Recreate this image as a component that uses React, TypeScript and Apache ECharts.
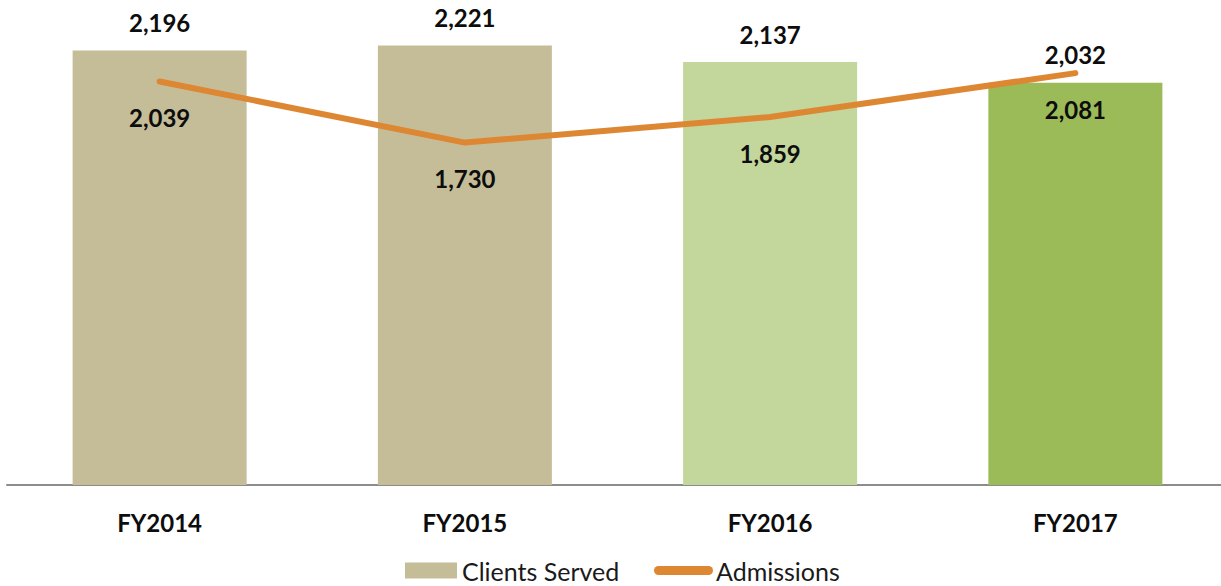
import React, { useEffect, useRef } from "react";
import * as echarts from "echarts";

const categories = ["FY2014", "FY2015", "FY2016", "FY2017"];
const clientsServed = [2196, 2221, 2137, 2032];
const admissions = [2039, 1730, 1859, 2081];
const barColors = ["#C4BD97", "#C4BD97", "#C3D69B", "#9BBB59"];

const fmt = (v: number) => v.toLocaleString("en-US");

const legendText = { fontSize: 25, lineHeight: 22, color: "#1A1A1A", fontFamily: "Lato" };

export default function App() {
  const ref = useRef<HTMLDivElement>(null);
  useEffect(() => {
    const chart = echarts.init(ref.current!, null, { renderer: "svg" });
    chart.setOption({
      animation: false,
      textStyle: { fontFamily: "Lato" },
      grid: { left: 7, right: 0, top: 10, bottom: 101 },
      legend: [
        {
          left: 400,
          top: 553,
          itemWidth: 52,
          itemHeight: 16,
          textStyle: legendText,
          data: [{ name: "Clients Served", icon: "rect" }],
        },
        {
          left: 649,
          top: 553,
          itemWidth: 59,
          itemHeight: 9,
          textStyle: { ...legendText, padding: [0, 0, 0, -2] },
          data: [
            {
              name: "Admissions",
              icon: "path://M4.5,0 L54.5,0 A4.5,4.5 0 0 1 54.5,9 L4.5,9 A4.5,4.5 0 0 1 4.5,0 Z",
              itemStyle: { color: "#DE8733" },
            },
          ],
        },
      ],
      xAxis: {
        type: "category",
        data: categories,
        axisLine: { show: true, lineStyle: { color: "#8C8C8C", width: 2 } },
        axisTick: { show: false },
        axisLabel: {
          fontSize: 24,
          fontWeight: "bold",
          color: "#0D0D0D",
          margin: 25,
          fontFamily: "Lato",
        },
      },
      yAxis: {
        type: "value",
        min: 0,
        max: 2400,
        show: false,
        splitLine: { show: false },
      },
      series: [
        {
          name: "Clients Served",
          type: "bar",
          barWidth: 174,
          itemStyle: { color: "#C4BD97" },
          data: clientsServed.map((v, i) => ({ value: v, itemStyle: { color: barColors[i] } })),
          label: {
            show: true,
            position: "top",
            distance: 16,
            fontSize: 24,
            fontWeight: "bold",
            color: "#0D0D0D",
            fontFamily: "Lato",
            formatter: (p: any) => fmt(p.value),
          },
        },
        {
          name: "Admissions",
          type: "line",
          data: admissions,
          symbol: "circle",
          symbolSize: 2,
          showSymbol: true,
          lineStyle: { color: "#DE8733", width: 6, cap: "round" },
          itemStyle: { color: "#DE8733" },
          label: {
            show: true,
            position: "bottom",
            distance: 23,
            fontSize: 24,
            fontWeight: "bold",
            color: "#0D0D0D",
            fontFamily: "Lato",
            formatter: (p: any) => fmt(p.value),
          },
          z: 3,
        },
      ],
    });
    return () => chart.dispose();
  }, []);
  return (
    <div
      ref={ref}
      style={{ position: "fixed", left: 0, top: 0, width: 1228, height: 586, background: "#fff" }}
    />
  );
}
